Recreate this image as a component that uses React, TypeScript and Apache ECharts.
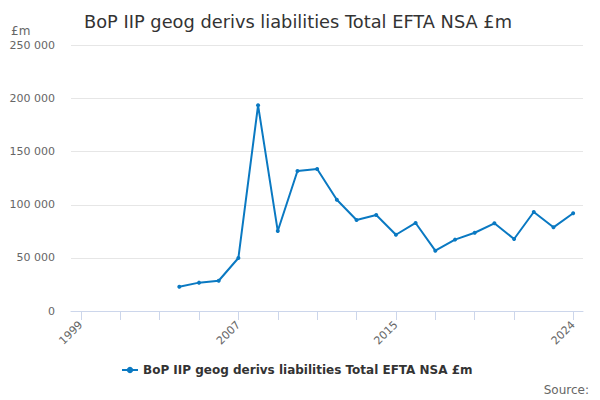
import React, { useEffect, useRef } from "react";
import * as echarts from "echarts";

const TITLE = "BoP IIP geog derivs liabilities Total EFTA NSA £m";
const years: string[] = [
  "1999", "2000", "2001", "2002", "2003", "2004", "2005", "2006", "2007", "2008",
  "2009", "2010", "2011", "2012", "2013", "2014", "2015", "2016", "2017", "2018",
  "2019", "2020", "2021", "2022", "2023", "2024",
];
const values: (number | null)[] = [
  null, null, null, null, null, 22900, 26700, 28500, 49900, 193700,
  75300, 131800, 133700, 104800, 85700, 90400, 71800, 82900, 56800, 67200,
  73700, 82600, 67800, 93200, 78800, 92000,
];
const labelYears: string[] = ["1999", "2007", "2015", "2024"];
const tickYears: string[] = [
  "1999", "2001", "2003", "2005", "2007", "2009", "2011", "2013", "2015",
  "2017", "2019", "2021", "2024",
];

const FONT = "DejaVu Sans";

export default function App() {
  const ref = useRef<HTMLDivElement>(null);
  useEffect(() => {
    if (!ref.current) return;
    const chart = echarts.init(ref.current, undefined, { renderer: "svg" });
    chart.setOption({
      animation: false,
      textStyle: { fontFamily: FONT },
      title: {
        text: TITLE,
        left: 293,
        textAlign: "center",
        top: 7,
        textStyle: { fontFamily: FONT, fontSize: 17.8, fontWeight: "normal", color: "#333333" },
      },
      grid: { left: 71, right: 17, top: 45.5, bottom: 89, containLabel: false },
      xAxis: {
        type: "category",
        data: years,
        boundaryGap: true,
        axisLine: { show: true, lineStyle: { color: "#ccd6eb", width: 1 } },
        axisTick: {
          show: true,
          alignWithLabel: true,
          length: 9,
          lineStyle: { color: "#ccd6eb" },
          interval: (i: number, v: string) => tickYears.includes(v),
        },
        axisLabel: {
          interval: (i: number, v: string) => labelYears.includes(v),
          rotate: 45,
          fontSize: 11,
          color: "#666666",
          fontFamily: FONT,
          margin: 12,
        },
        splitLine: { show: false },
      },
      yAxis: {
        type: "value",
        min: 0,
        max: 250000,
        interval: 50000,
        axisLine: { show: false },
        axisTick: { show: false },
        axisLabel: {
          fontSize: 11,
          color: "#666666",
          fontFamily: FONT,
          margin: 16,
          formatter: (v: number) => String(v).replace(/\B(?=(\d{3})+(?!\d))/g, " "),
        },
        splitLine: { lineStyle: { color: "#e6e6e6", width: 1 } },
      },
      legend: {
        show: true,
        bottom: 19,
        left: 116,
        itemWidth: 16,
        itemHeight: 8,
        itemGap: 5,
        textStyle: { fontFamily: FONT, fontSize: 12, fontWeight: "bold", color: "#333333" },
      },
      graphic: [
        {
          type: "text",
          left: 11,
          top: 25,
          style: { text: "£m", fontFamily: FONT, fontSize: 12, fill: "#666666" },
        },
        {
          type: "text",
          right: 11,
          top: 384,
          style: { text: "Source:", fontFamily: FONT, fontSize: 12, fill: "#666666" },
        },
      ],
      series: [
        {
          name: TITLE,
          type: "line",
          data: values,
          connectNulls: false,
          symbol: "circle",
          symbolSize: 4,
          showSymbol: true,
          lineStyle: { color: "#0a79c2", width: 2 },
          itemStyle: { color: "#0a79c2" },
        },
      ],
    });
    return () => chart.dispose();
  }, []);
  return <div ref={ref} style={{ width: 600, height: 400, position: "absolute", left: 0, top: 0 }} />;
}
